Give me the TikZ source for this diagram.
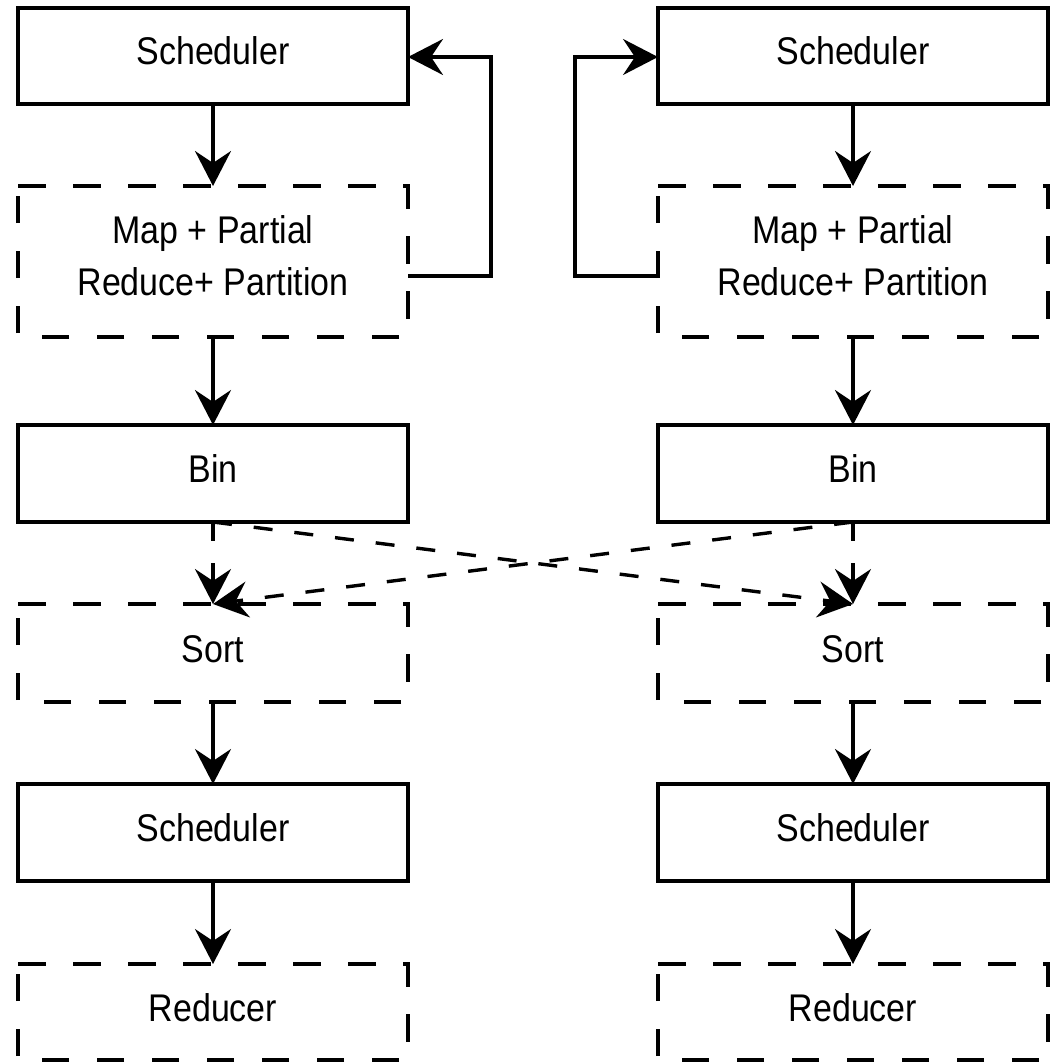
\documentclass[tikz,border=0pt]{standalone}
\usepackage{fontspec}
\setmainfont{Liberation Sans}[FakeStretch=0.88]
\usetikzlibrary{arrows.meta}

\tikzset{
  stage/.style={rectangle, minimum width=390pt, outer sep=0pt, inner sep=0pt,
    align=center, font=\fontsize{38.6}{52}\selectfont,
    text height=27.7pt, text depth=9.7pt},
  twoline/.style={text height=76.7pt, text depth=9.7pt},
  solidbox/.style={stage, draw, line width=3.8pt},
  dashedbox/.style={line width=3.8pt, dash pattern=on 27.5pt off 27.5pt},
  arr/.style={line width=3.4pt, -{Stealth[length=35pt, width=36pt, inset=12pt]}},
  darr/.style={arr, dash pattern=on 19pt off 22pt},
}

% border of a dashed stage, traced clockwise from its top-left corner
\newcommand{\dashedborder}[1]{%
  \draw[dashedbox] (#1.north west) -- (#1.north east) -- (#1.south east)
    -- (#1.south west) -- cycle;}

\begin{document}
\begin{tikzpicture}[x=1pt, y=-1pt]
\useasboundingbox (0,0) rectangle (1058,1062);

% left pipeline
\node[solidbox, minimum height=96pt] (schL)  at (213,56)    {Scheduler};
\node[stage, twoline, minimum height=151pt] (mapL) at (213,261.5) {Map + Partial\\Reduce+ Partition};
\node[solidbox, minimum height=97pt] (binL)  at (213,473.5) {Bin};
\node[stage,    minimum height=98pt] (sortL) at (213,653)   {Sort};
\node[solidbox, minimum height=97pt] (schLb) at (213,832.5) {Scheduler};
\node[stage,    minimum height=96pt] (redL)  at (213,1012)  {Reducer};

% right pipeline
\node[solidbox, minimum height=96pt] (schR)  at (853,56)    {Scheduler};
\node[stage, twoline, minimum height=151pt] (mapR) at (853,261.5) {Map + Partial\\Reduce+ Partition};
\node[solidbox, minimum height=97pt] (binR)  at (853,473.5) {Bin};
\node[stage,    minimum height=98pt] (sortR) at (853,653)   {Sort};
\node[solidbox, minimum height=97pt] (schRb) at (853,832.5) {Scheduler};
\node[stage,    minimum height=96pt] (redR)  at (853,1012)  {Reducer};

\dashedborder{mapL}\dashedborder{sortL}\dashedborder{redL}
\dashedborder{mapR}\dashedborder{sortR}\dashedborder{redR}

% straight flow
\foreach \s in {L,R}{
  \draw[arr] (sch\s.south)  -- (map\s.north);
  \draw[arr] (map\s.south)  -- (bin\s.north);
  \draw[arr] (sort\s.south) -- (sch\s b.north);
  \draw[arr] (sch\s b.south) -- (red\s.north);
}

% feedback to the schedulers
\draw[arr] ([yshift=-14.5pt]mapL.east) -- ++(83,0) |- ([yshift=-1pt]schL.east);
\draw[arr] ([yshift=-14.5pt]mapR.west) -- ++(-83,0) |- ([yshift=-1pt]schR.west);

% shuffle between bins and sorters
\draw[darr] (binL.south) -- (sortL.north);
\draw[darr] (binR.south) -- (sortR.north);
\draw[darr] (binL.south) -- (sortR.north);
\draw[darr] (binR.south) -- (sortL.north);
\end{tikzpicture}
\end{document}
